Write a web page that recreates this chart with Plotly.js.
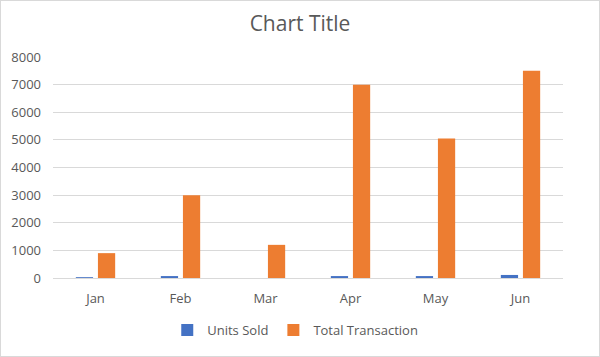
<!DOCTYPE html>
<html><head><meta charset="utf-8">
<script src="https://cdn.plot.ly/plotly-3.0.1.min.js"></script>
<style>html,body{margin:0;padding:0;background:#fff;}#c{width:600px;height:357px;box-sizing:border-box;border:1px solid #d9d9d9;}</style>
</head><body><div id="c"></div>
<script>
const months = ["Jan","Feb","Mar","Apr","May","Jun"];
const unitsSold = [30, 70, 0, 70, 70, 110];
const totalTransaction = [900, 3000, 1200, 7000, 5050, 7500];
const yTicks = [0,1000,2000,3000,4000,5000,6000,7000,8000];

const font = {family: "Open Sans, Liberation Sans, sans-serif", color: "#595959"};
const data = [
  {type:"bar", name:"Units Sold", x:months, y:unitsSold, marker:{color:"#4472C4"}},
  {type:"bar", name:"Total Transaction", x:months, y:totalTransaction, marker:{color:"#ED7D31"}}
];
const layout = {
  width:598, height:355,
  margin:{l:52, r:36, t:56, b:77},
  paper_bgcolor:"#fff", plot_bgcolor:"#fff",
  title:{text:"Chart Title", x:0.5, xanchor:"center", y:0.935, yanchor:"middle", font:{...font, size:21}},
  barmode:"group", bargap:0.48, bargroupgap:0.22,
  showlegend:true,
  legend:{orientation:"h", x:0.475, xanchor:"center", y:-0.23, yanchor:"middle", font:{...font, size:13}, itemwidth:30, traceorder:"normal"},
  xaxis:{tickfont:{...font, size:13}, showgrid:false, showline:true, linecolor:"#d9d9d9", ticks:"", ticklabelstandoff:8, fixedrange:true},
  yaxis:{range:[0,8000], tickvals:yTicks, ticktext:yTicks.map(String), tickfont:{...font, size:13}, gridcolor:"#d9d9d9", zeroline:false, showline:false, ticks:"", ticklabelstandoff:11, fixedrange:true},
  hovermode:false
};
Plotly.newPlot("c", data, layout, {displayModeBar:false, staticPlot:true});
</script></body></html>
